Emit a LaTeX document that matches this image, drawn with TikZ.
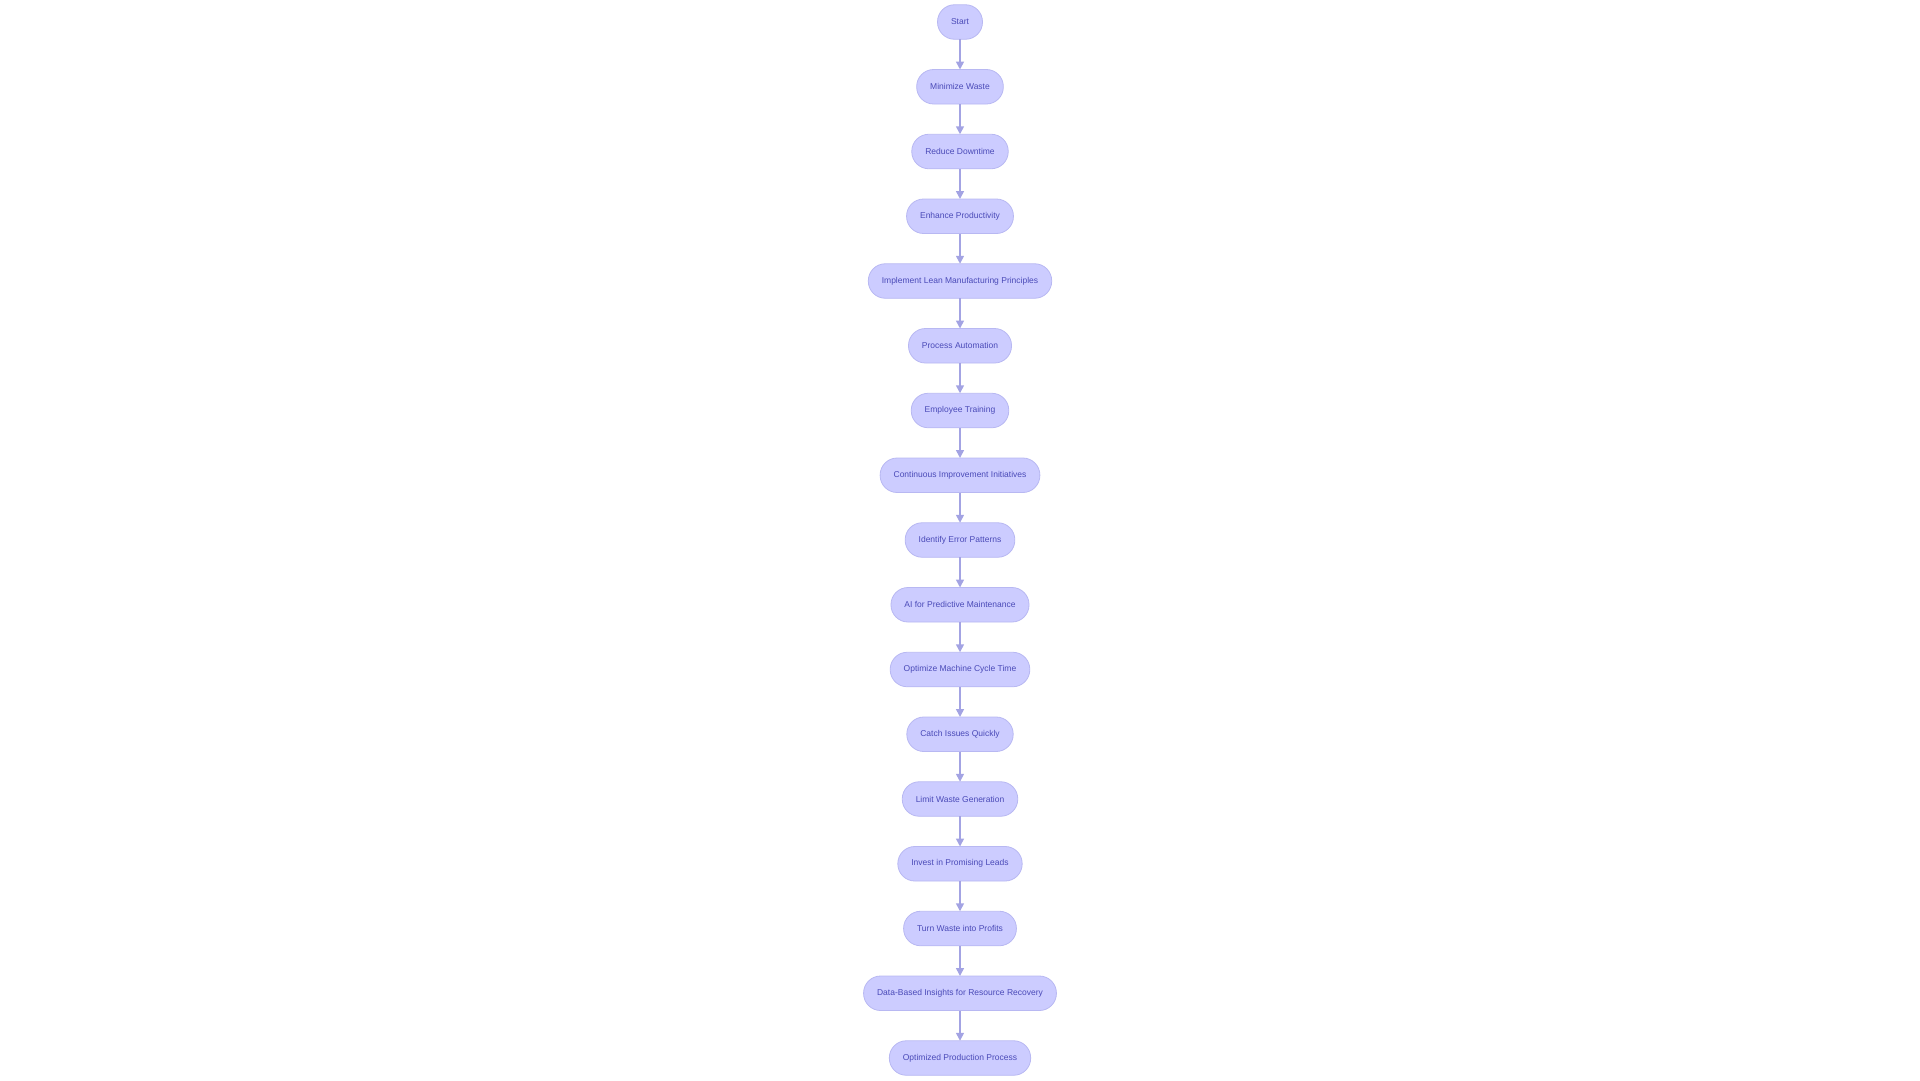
\documentclass[tikz,border=0pt]{standalone}
\usepackage{fontspec}
\setmainfont{Liberation Sans}
\usetikzlibrary{arrows.meta, positioning}

\definecolor{stepfill}{HTML}{CCCCFF}
\definecolor{stepline}{HTML}{B8B8F2}
\definecolor{steptext}{HTML}{4A4AB8}
\definecolor{flowline}{HTML}{A3A3E3}

\begin{document}
\begin{tikzpicture}[x=1pt, y=1pt, node distance=30.25pt]
        % Styles
        \tikzstyle{stepbox} = [draw=stepline, fill=stepfill, text=steptext, line width=0.8pt,
                                rounded corners=17pt, minimum height=34.5pt, minimum width=34.5pt,
                                inner xsep=13.5pt, outer sep=0pt, font=\fontsize{8.5}{10}\selectfont]
        \tikzstyle{flow} = [draw=flowline, line width=1.6pt, -{Triangle[length=8pt, width=8pt]}]

        % Canvas
        \useasboundingbox (0,0) rectangle (1920,-1080);

        % Steps - top to bottom, each below the previous one
        \node[stepbox] (start) at (960,-22) {Start};
        \node[stepbox, below=of start] (waste) {Minimize Waste};
        \node[stepbox, below=of waste] (downtime) {Reduce Downtime};
        \node[stepbox, below=of downtime] (productivity) {Enhance Productivity};
        \node[stepbox, below=of productivity] (lean) {Implement Lean Manufacturing Principles};
        \node[stepbox, below=of lean] (automation) {Process Automation};
        \node[stepbox, below=of automation] (training) {Employee Training};
        \node[stepbox, below=of training] (improve) {Continuous Improvement Initiatives};
        \node[stepbox, below=of improve] (errors) {Identify Error Patterns};
        \node[stepbox, below=of errors] (ai) {AI for Predictive Maintenance};
        \node[stepbox, below=of ai] (cycle) {Optimize Machine Cycle Time};
        \node[stepbox, below=of cycle] (issues) {Catch Issues Quickly};
        \node[stepbox, below=of issues] (limit) {Limit Waste Generation};
        \node[stepbox, below=of limit] (invest) {Invest in Promising Leads};
        \node[stepbox, below=of invest] (profits) {Turn Waste into Profits};
        \node[stepbox, below=of profits] (recovery) {Data-Based Insights for Resource Recovery};
        \node[stepbox, below=of recovery] (optimized) {Optimized Production Process};

        % Arrows between consecutive steps
        \foreach \a/\b in {start/waste, waste/downtime, downtime/productivity, productivity/lean,
                           lean/automation, automation/training, training/improve, improve/errors,
                           errors/ai, ai/cycle, cycle/issues, issues/limit, limit/invest,
                           invest/profits, profits/recovery, recovery/optimized} {
            \draw[flow] (\a) -- (\b);
        }
\end{tikzpicture}
\end{document}
